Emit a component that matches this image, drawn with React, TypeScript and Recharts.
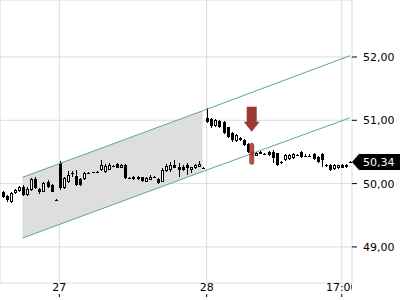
import {
  Area, Bar, CartesianGrid, ComposedChart, Line, ReferenceDot, ReferenceLine, XAxis, YAxis,
} from "recharts";

// 15-min candles, 26th (tail) .. 28th; slot = position on the compressed trading-time axis
const opens = [
  49.87, 49.81, 49.71, 49.85, 49.88, 49.95, 49.82, 49.90, 50.08, 49.92, 49.87, 50.02, 49.98, 49.74,
  50.33, 49.93, 50.03, 50.15, 50.12, 50.07, 50.07, 50.17, 50.17, 50.18, 50.22, 50.19, 50.22, 50.28, 50.31, 50.25, 50.29, 50.09,
  50.11, 50.07, 50.10, 50.03, 50.06, 50.11, 50.08, 50.03, 50.20, 50.21, 50.30, 50.26, 50.27, 50.30, 50.21, 50.24, 50.27, 50.25,
  51.03, 51.02, 50.91, 50.99, 50.97, 50.89, 50.80, 50.68, 50.72, 50.69, 50.63, 50.50, 50.44, 50.47, 50.46, 50.50, 50.50, 50.48,
  50.34, 50.37, 50.39, 50.40, 50.45, 50.50, 50.44, 50.44, 50.47, 50.42, 50.47, 50.29, 50.30, 50.23, 50.24, 50.30, 50.26, 50.34,
];
const highs = [
  49.89, 49.82, 49.87, 49.91, 49.97, 49.98, 49.94, 50.09, 50.10, 49.93, 50.03, 50.05, 50.00, 49.75,
  50.36, 50.11, 50.20, 50.20, 50.22, 50.09, 50.19, 50.19, 50.19, 50.20, 50.37, 50.31, 50.33, 50.30, 50.33, 50.31, 50.31, 50.10,
  50.12, 50.12, 50.11, 50.10, 50.14, 50.12, 50.09, 50.24, 50.31, 50.34, 50.37, 50.33, 50.29, 50.33, 50.27, 50.31, 50.35, 50.26,
  51.19, 51.04, 51.02, 51.01, 50.99, 50.90, 50.81, 50.79, 50.73, 50.70, 50.64, 50.51, 50.50, 50.52, 50.48, 50.51, 50.53, 50.49,
  50.36, 50.46, 50.46, 50.48, 50.46, 50.52, 50.46, 50.46, 50.48, 50.43, 50.49, 50.31, 50.31, 50.31, 50.30, 50.31, 50.31, 50.35,
];
const lows = [
  49.77, 49.71, 49.70, 49.84, 49.87, 49.80, 49.80, 49.88, 49.92, 49.84, 49.86, 49.93, 49.86, 49.73,
  49.90, 49.91, 50.01, 50.11, 49.96, 49.96, 50.05, 50.15, 50.16, 50.17, 50.20, 50.17, 50.21, 50.27, 50.24, 50.24, 50.07, 50.08,
  50.06, 50.06, 50.03, 50.02, 50.05, 50.10, 49.99, 50.02, 50.18, 50.19, 50.24, 50.11, 50.20, 50.13, 50.16, 50.23, 50.26, 50.24,
  50.96, 50.88, 50.89, 50.88, 50.78, 50.72, 50.66, 50.66, 50.67, 50.60, 50.49, 50.44, 50.43, 50.46, 50.45, 50.44, 50.33, 50.28,
  50.31, 50.36, 50.38, 50.39, 50.44, 50.41, 50.42, 50.42, 50.38, 50.33, 50.26, 50.27, 50.20, 50.22, 50.23, 50.24, 50.25, 50.33,
];
const closes = [
  49.79, 49.74, 49.85, 49.90, 49.95, 49.82, 49.92, 50.07, 49.93, 49.86, 50.01, 49.95, 49.87, 49.74,
  49.93, 50.09, 50.14, 50.16, 49.98, 49.98, 50.16, 50.17, 50.18, 50.19, 50.30, 50.28, 50.29, 50.28, 50.25, 50.30, 50.09, 50.09,
  50.07, 50.10, 50.04, 50.09, 50.11, 50.11, 50.01, 50.22, 50.28, 50.30, 50.25, 50.22, 50.21, 50.25, 50.26, 50.29, 50.31, 50.25,
  50.98, 50.91, 51.00, 50.90, 50.80, 50.74, 50.69, 50.77, 50.69, 50.61, 50.50, 50.45, 50.48, 50.50, 50.46, 50.45, 50.41, 50.30,
  50.34, 50.45, 50.45, 50.47, 50.45, 50.42, 50.44, 50.44, 50.39, 50.34, 50.38, 50.29, 50.22, 50.29, 50.29, 50.25, 50.30, 50.34,
];

const tickSlots = [14, 50, 83];
const tickLabels = ["27", "28", "17:00"];
const priceTicks = [49, 50, 51, 52];

// trend channel: anchor slots and the upper / lower line values read at them
const channelSlots = [5, 49, 85];
const channelUpper = [50.1, 51.15, 52.02];
const channelLower = [49.14, 50.19, 51.04];
const shadedUntil = 49;

const markSlot = 61;
const markArrowTip = 50.82;
const markCenter = 50.47;

const fmt = (v: number) => v.toFixed(2).replace(".", ",");
const FONT = "DejaVu Sans, sans-serif";

const data = opens.map((o, k) => {
  const ci = channelSlots.indexOf(k);
  return {
    slot: k,
    o, h: highs[k], l: lows[k], c: closes[k],
    range: [lows[k], highs[k]],
    upper: ci >= 0 ? channelUpper[ci] : null,
    lower: ci >= 0 ? channelLower[ci] : null,
    band: ci >= 0 && k <= shadedUntil ? [channelLower[ci], channelUpper[ci]] : null,
  };
});
const lastClose = closes[closes.length - 1];

function Candle(props: any) {
  const { x, y, width, height, payload } = props;
  if (!payload) return null;
  const { o, h, l, c } = payload;
  const top0 = height < 0 ? y + height : y;
  const hh = Math.abs(height);
  const k = h > l ? hh / (h - l) : 0;
  const py = (v: number) => top0 + (h - v) * k;
  const cx = Math.round(x + width / 2);
  const bTop = Math.round(py(Math.max(o, c)));
  const bBot = Math.round(py(Math.min(o, c)));
  const up = c > o;
  return (
    <g shapeRendering="crispEdges">
      <line x1={cx + 0.5} x2={cx + 0.5} y1={Math.round(top0)} y2={Math.round(top0 + hh)} stroke="#000" />
      {bBot - bTop < 2 ? (
        <line x1={cx - 1} x2={cx + 2} y1={bTop + 0.5} y2={bTop + 0.5} stroke="#000" />
      ) : (
        <rect x={cx - 0.5} y={bTop + 0.5} width={2} height={bBot - bTop - 1}
          fill={up ? "#fff" : "#000"} stroke="#000" />
      )}
    </g>
  );
}

function TimeTick(props: any) {
  const { x, y, payload } = props;
  const label = tickLabels[tickSlots.indexOf(payload.value)] ?? "";
  return (
    <g>
      <svg x={0} y={y} width={352} height={14} overflow="hidden">
        <text x={x} y={8} textAnchor="middle" fontSize={11} fontFamily={FONT} fill="#000">{label}</text>
      </svg>
      <line x1={x} x2={x} y1={y + 11} y2={y + 14} stroke="#000" />
    </g>
  );
}

function PriceTag(props: any) {
  const vb = props.viewBox || {};
  const tip = (vb.x ?? 0) + (vb.width ?? 0);
  const cy = Math.round(vb.y ?? 0);
  return (
    <g>
      <path d={`M${tip},${cy} L${tip + 7},${cy - 8} L400,${cy - 8} L400,${cy + 8} L${tip + 7},${cy + 8} Z`} fill="#000" />
      <text x={tip + 11} y={cy + 4} fontSize={11} fontFamily={FONT} fill="#fff">{fmt(lastClose)}</text>
    </g>
  );
}

function Arrow(props: any) {
  const { cx, cy } = props;
  return (
    <path
      d={`M${cx - 5},${cy - 25} L${cx + 5},${cy - 25} L${cx + 5},${cy - 10} L${cx + 8},${cy - 10} L${cx},${cy} L${cx - 8},${cy - 10} L${cx - 5},${cy - 10} Z`}
      fill="#9c3934"
    />
  );
}

function Highlight(props: any) {
  const { cx, cy } = props;
  return <rect x={cx - 2.5} y={cy - 11} width={5} height={22} rx={2.5} fill="#a63f39" fillOpacity={0.9} />;
}

export default function App() {
  return (
    <div style={{ position: "absolute", left: 0, top: 0, width: 400, height: 300, background: "#fff" }}>
      <ComposedChart width={400} height={300} data={data} margin={{ top: 0, right: 0, bottom: 0, left: 0 }}>
        <CartesianGrid stroke="#dcdcdc" />
        <XAxis dataKey="slot" type="category" ticks={tickSlots} interval={0} height={17}
          axisLine={false} tickLine={false} tickSize={0} tickMargin={0} tick={<TimeTick />} />
        <YAxis orientation="right" domain={[48.43, 52.9]} ticks={priceTicks} allowDataOverflow width={48}
          axisLine={false} tickSize={5} tickMargin={6} tickLine={{ stroke: "#000" }}
          tickFormatter={fmt} tick={{ fill: "#000", fontSize: 11, fontFamily: FONT }} />
        <Area dataKey="band" connectNulls stroke="none" fill="#dedede" fillOpacity={1} isAnimationActive={false} />
        <Line dataKey="upper" connectNulls dot={false} stroke="#5ba4ac" strokeWidth={1} isAnimationActive={false} />
        <Line dataKey="lower" connectNulls dot={false} stroke="#5ba4ac" strokeWidth={1} isAnimationActive={false} />
        <ReferenceDot x={markSlot} y={markCenter} shape={<Highlight />} />
        <Bar dataKey="range" barSize={3} shape={<Candle />} isAnimationActive={false} />
        <ReferenceDot x={markSlot} y={markArrowTip} shape={<Arrow />} />
        <ReferenceLine y={lastClose} stroke="none" label={<PriceTag />} />
      </ComposedChart>
    </div>
  );
}
